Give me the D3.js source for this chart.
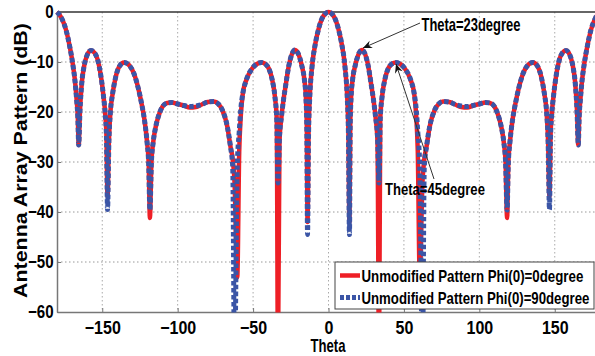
<!DOCTYPE html>
<html>
<head>
<meta charset="utf-8">
<script src="https://cdn.jsdelivr.net/npm/d3@7"></script>
<style>
  body { margin: 0; background: #fff; }
  svg { display: block; overflow: hidden; }
  text { font-family: "Liberation Sans", Arial, sans-serif; font-weight: bold; fill: #000; }
</style>
</head>
<body>
<script>
var width = 595,
    height = 356

// theta in degrees
var theta = [
  -180, -177, -174, -171.5, -169.5, -168, -167, -166.2, -165.6, -164.8, -163.6, -162, -160, -157.5, -155, -153,
  -151, -149.2, -148, -147.2, -146.5, -145.6, -144.6, -143.2, -141, -138.7, -135.5, -132, -129, -126, -124, -122,
  -120.3, -119.2, -118.4, -117.4, -116.2, -114.5, -112, -110, -107, -104, -100, -96, -92, -88, -84, -80, -76, -73,
  -70.4, -67.1, -65, -63.5, -62.3, -60.5, -59.2, -58.2, -56.8, -54.5, -50.6, -47.5, -44.4, -41.5, -39.6, -37.3,
  -35.5, -34.3, -33.5, -32.5, -31.2, -29.8, -28.3, -26.4, -24.1, -22.4, -20.3, -17.8, -16, -15, -14.4, -13.9, -13.2,
  -12.5, -10.9, -8.7, -6.5, -4.3, -2,
  0,
  2, 4.3, 6.5, 8.7, 10.9, 12.5, 13.2, 13.9, 14.4, 15, 16, 17.8, 20.3, 22.4, 24.1, 26.4, 28.3, 29.8, 31.2, 32.5,
  33.5, 34.3, 35.5, 37.3, 39.6, 41.5, 44.4, 47.5, 50.6, 54.5, 56.8, 58.2, 59.2, 60.5, 62.3, 63.5, 65, 67.1, 70.4,
  73, 76, 80, 84, 88, 92, 96, 100, 104, 107, 110, 112, 114.5, 116.2, 117.4, 118.4, 119.2, 120.3, 122, 124, 126,
  129, 132, 135.5, 138.7, 141, 143.2, 144.6, 145.6, 146.5, 147.2, 148, 149.2, 151, 153, 155, 157.5, 160, 162,
  163.6, 164.8, 165.6, 166.2, 167, 168, 169.5, 171.5, 174, 177, 180
]

// Unmodified Pattern Phi(0)=0degree (dB)
var phi0 = [
  0, -1.2, -3.6, -7.0, -10.5, -14.0, -17.5, -21, -26.6, -20, -14.3, -10.8, -8.6, -7.7, -8.2, -9.6,
  -12.6, -16.8, -20.5, -25, -37, -26, -20, -16.5, -12.9, -10.9, -10.1, -10.7, -12.3, -15.4, -18.2, -21.6,
  -26, -30.5, -41.2, -30, -26, -22.9, -20.2, -18.9, -18.2, -18.1, -18.4, -18.7, -19.1, -19.0, -18.5, -18.0, -17.9, -18.4,
  -19.6, -22.9, -26.9, -29.5, -34, -53, -28, -21, -16.3, -13.6, -11.3, -10.4, -10.1, -10.5, -11.3, -13.6,
  -17.0, -21.5, -70, -26, -21, -17.5, -14.5, -10.9, -8.3, -7.6, -8.2, -10.6, -13.5, -17, -22.5, -42, -24,
  -17.6, -10.9, -6.3, -3.3, -1.3, -0.3,
  0,
  -0.3, -1.3, -3.3, -6.3, -10.9, -17.6, -24, -42, -22.5, -17, -13.5, -10.6, -8.2, -7.6, -8.3, -10.9, -14.5, -17.5, -21, -26,
  -70, -21.5, -17.0, -13.6, -11.3, -10.5, -10.1, -10.4, -11.3, -13.6, -16.3, -21, -28, -53, -34, -29.5, -26.9, -22.9, -19.6,
  -18.4, -17.9, -18.0, -18.5, -19.0, -19.1, -18.7, -18.4, -18.1, -18.2, -18.9, -20.2, -22.9, -26, -30, -41.2, -30.5, -26, -21.6, -18.2, -15.4,
  -12.3, -10.7, -10.1, -10.9, -12.9, -16.5, -20, -26, -37, -25, -20.5, -16.8, -12.6, -9.6, -8.2, -7.7, -8.6, -10.8,
  -14.3, -20, -26.6, -21, -17.5, -14.0, -10.5, -7.0, -3.6, -1.2, 0
]

// Unmodified Pattern Phi(0)=90degree (dB)
var phi90 = [
  0, -1.2, -3.6, -7.0, -10.5, -14.0, -17.5, -21, -26.6, -20, -14.3, -10.8, -8.6, -7.7, -8.2, -9.6,
  -12.6, -16.8, -20.5, -25, -39.5, -26, -20, -16.5, -12.9, -10.9, -10.1, -10.7, -12.3, -15.4, -18.2, -21.6,
  -26, -30.5, -39.6, -30, -26, -22.9, -20.2, -18.9, -18.2, -18.1, -18.4, -18.7, -18.9, -18.8, -18.5, -18.0, -17.9, -18.4,
  -19.6, -22.9, -26.9, -31, -70, -31, -24, -19.6, -16.3, -13.6, -11.3, -10.4, -10.1, -10.5, -11.3, -13.6,
  -17.0, -21.5, -34.2, -25, -21, -17.5, -14.5, -10.9, -8.3, -7.6, -8.2, -10.6, -13.5, -17, -22.5, -44.5, -24,
  -17.6, -10.9, -6.3, -3.3, -1.3, -0.3,
  0,
  -0.3, -1.3, -3.3, -6.3, -10.9, -17.6, -24, -44.5, -22.5, -17, -13.5, -10.6, -8.2, -7.6, -8.3, -10.9, -14.5, -17.5, -21, -25,
  -34.2, -21.5, -17.0, -13.6, -11.3, -10.5, -10.1, -10.4, -11.3, -13.6, -16.3, -19.6, -24, -31, -70, -31, -26.9, -22.9, -19.6,
  -18.4, -17.9, -18.0, -18.5, -18.8, -18.9, -18.7, -18.4, -18.1, -18.2, -18.9, -20.2, -22.9, -26, -30, -39.6, -30.5, -26, -21.6, -18.2, -15.4,
  -12.3, -10.7, -10.1, -10.9, -12.9, -16.5, -20, -26, -39.5, -25, -20.5, -16.8, -12.6, -9.6, -8.2, -7.7, -8.6, -10.8,
  -14.3, -20, -26.6, -21, -17.5, -14.0, -10.5, -7.0, -3.6, -1.2, 0
]

var xTicks = [-150, -100, -50, 0, 50, 100, 150],
    yTicks = [0, -10, -20, -30, -40, -50, -60]

var seriesNames = ['Unmodified Pattern Phi(0)=0degree', 'Unmodified Pattern Phi(0)=90degree']

var x = d3.scaleLinear().domain([-180, 180]).range([57, 600])
var y = d3.scaleLinear().domain([-60, 0]).range([312, 12])

var red = '#ee1f26',
    blue = '#3b55a6'

var svg = d3.select('body').append('svg')
    .attr('width', width)
    .attr('height', height)

var defs = svg.append('defs')
defs.append('clipPath').attr('id', 'plot-clip')
  .append('rect')
    .attr('x', 54).attr('y', 8)
    .attr('width', 550).attr('height', 312.5 - 8)

defs.append('marker')
    .attr('id', 'arrow')
    .attr('viewBox', '-10 -5 12 10')
    .attr('refX', 0).attr('refY', 0)
    .attr('markerWidth', 12).attr('markerHeight', 10)
    .attr('markerUnits', 'userSpaceOnUse')
    .attr('orient', 'auto')
  .append('path')
    .attr('d', 'M0,0 L-9,-4 L-6,0 L-9,4 Z')
    .attr('fill', '#111')

// condensed bold text: squeeze horizontally to a given width
function narrowText(parent, str, size, len, transform, anchor) {
  var g = parent.append('g').attr('transform', transform)
  var t = g.append('text')
      .attr('text-anchor', anchor || 'start')
      .style('font-size', size + 'px')
      .text(str)
  var k = len / t.node().getComputedTextLength()
  t.attr('transform', 'scale(' + k + ',1)')
  return t
}

// grid
svg.append('g').selectAll('line')
  .data(xTicks)
  .join('line')
    .attr('x1', function(d){ return x(d) }).attr('x2', function(d){ return x(d) })
    .attr('y1', y(0)).attr('y2', y(-60))
    .attr('stroke', '#aaa').attr('stroke-dasharray', '1.5,2.5')

svg.append('g').selectAll('line')
  .data(yTicks.filter(function(d){ return d > -60 && d < 0 }))
  .join('line')
    .attr('x1', x(-180)).attr('x2', x(180))
    .attr('y1', function(d){ return y(d) }).attr('y2', function(d){ return y(d) })
    .attr('stroke', '#999').attr('stroke-dasharray', '1.5,2.5')

// axes
var xAxis = svg.append('g')
    .attr('transform', 'translate(0,' + y(-60) + ')')
    .call(d3.axisBottom(x).tickValues(xTicks).tickSizeInner(-4).tickSizeOuter(0).tickPadding(9))
xAxis.select('.domain').attr('stroke', '#777').attr('stroke-width', 1.5)
xAxis.selectAll('.tick line').attr('stroke', '#777')
xAxis.selectAll('.tick text')
    .style('font-size', '18px')
    .style('font-family', '"Liberation Sans", Arial, sans-serif')
    .style('font-weight', 'bold')
    .attr('transform', 'scale(0.89,1)')

var yAxis = svg.append('g')
    .attr('transform', 'translate(' + x(-180) + ',0)')
    .call(d3.axisLeft(y).tickValues(yTicks).tickSizeInner(-4).tickSizeOuter(0).tickPadding(4))
yAxis.select('.domain').attr('stroke', '#777').attr('stroke-width', 1.5)
yAxis.selectAll('.tick line').attr('stroke', '#777')
yAxis.selectAll('.tick text')
    .style('font-size', '18px')
    .style('font-family', '"Liberation Sans", Arial, sans-serif')
    .style('font-weight', 'bold')
    .attr('transform', 'scale(0.84,1)')

// top box line
svg.append('line')
    .attr('x1', x(-180)).attr('x2', x(180))
    .attr('y1', y(0)).attr('y2', y(0))
    .attr('stroke', '#333').attr('stroke-width', 1.5)

// series
var line = d3.line()
    .x(function(d){ return x(d[0]) })
    .y(function(d){ return y(d[1]) })
    .curve(d3.curveMonotoneX)

var plot = svg.append('g').attr('clip-path', 'url(#plot-clip)')

plot.append('path')
    .datum(theta.map(function(t, i){ return [t, phi0[i]] }))
    .attr('d', line)
    .attr('fill', 'none')
    .attr('stroke', red)
    .attr('stroke-width', 4.5)
    .attr('stroke-linejoin', 'round')

plot.append('path')
    .datum(theta.map(function(t, i){ return [t, phi90[i]] }))
    .attr('d', line)
    .attr('fill', 'none')
    .attr('stroke', blue)
    .attr('stroke-width', 5)
    .attr('stroke-dasharray', '4.5,2.5')

// axis titles
narrowText(svg, 'Theta', 17.5, 35, 'translate(328,352)', 'middle')
narrowText(svg, 'Antenna Array Pattern (dB)', 18.5, 275, 'translate(27,160.5) rotate(-90)', 'middle')

// annotations
svg.append('line')
    .attr('x1', 420).attr('y1', 23).attr('x2', 363).attr('y2', 48)
    .attr('stroke', '#333').attr('stroke-width', 1)
    .attr('marker-end', 'url(#arrow)')
narrowText(svg, 'Theta=23degree', 17.5, 99, 'translate(421.5,30.5)')

svg.append('line')
    .attr('x1', 434).attr('y1', 179).attr('x2', 396).attr('y2', 64)
    .attr('stroke', '#333').attr('stroke-width', 1)
    .attr('marker-end', 'url(#arrow)')
narrowText(svg, 'Theta=45degree', 17, 100, 'translate(385,194.5)')

// legend
var legend = svg.append('g')
legend.append('rect')
    .attr('x', 335).attr('y', 262).attr('width', 259).attr('height', 47)
    .attr('fill', '#fff').attr('stroke', '#444').attr('stroke-width', 1)

var legendRows = [
  {name: seriesNames[0], color: red, dash: null, w: 4.5, y: 275.5, len: 222},
  {name: seriesNames[1], color: blue, dash: '4,2', w: 5, y: 297.5, len: 228}
]

legendRows.forEach(function(d){
  legend.append('line')
      .attr('x1', 340).attr('x2', 360)
      .attr('y1', d.y).attr('y2', d.y)
      .attr('stroke', d.color)
      .attr('stroke-width', d.w)
      .attr('stroke-dasharray', d.dash)
  narrowText(legend, d.name, 16.5, d.len, 'translate(361.5,' + (d.y + 6) + ')')
})
</script>
</body>
</html>
